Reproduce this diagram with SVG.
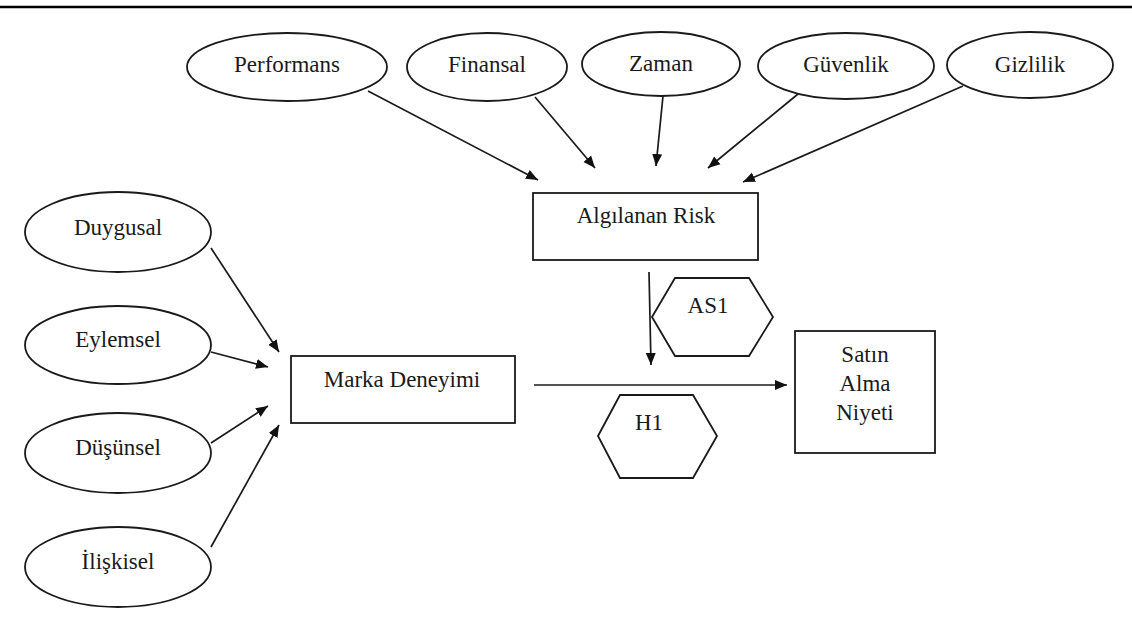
<svg xmlns="http://www.w3.org/2000/svg" width="1132" height="641" viewBox="0 0 1132 641">
<style>
.n{fill:#fff;stroke:#1a1a1a;stroke-width:1.8}
.t{font-family:"Liberation Serif","Times New Roman",serif;font-size:23px;fill:#1a1a1a;text-anchor:middle}
.c{stroke:#1a1a1a;stroke-width:1.7;fill:none;marker-end:url(#ah)}
</style>
<defs>
<marker id="ah" markerUnits="userSpaceOnUse" markerWidth="13" markerHeight="11" refX="12" refY="5.5" orient="auto">
<path d="M0,0.5 L12,5.5 L0,10.5 z" fill="#111"/>
</marker>
</defs>
<rect width="1132" height="641" fill="#fff"/>
<line x1="0" y1="7" x2="1132" y2="7" stroke="#000" stroke-width="2.5"/>
<g id="performans"><ellipse class="n" cx="287" cy="67" rx="100" ry="34"/><text class="t" x="287" y="72">Performans</text></g>
<g id="finansal"><ellipse class="n" cx="487" cy="67" rx="80" ry="34"/><text class="t" x="487" y="72">Finansal</text></g>
<g id="zaman"><ellipse class="n" cx="661" cy="64" rx="79" ry="32"/><text class="t" x="661" y="71">Zaman</text></g>
<g id="guvenlik"><ellipse class="n" cx="846" cy="66" rx="88" ry="33"/><text class="t" x="846" y="72">Güvenlik</text></g>
<g id="gizlilik"><ellipse class="n" cx="1030" cy="65" rx="83" ry="33"/><text class="t" x="1030" y="72">Gizlilik</text></g>
<g id="risk"><rect class="n" x="533" y="193" width="225" height="67"/><text class="t" x="646" y="223">Algılanan Risk</text></g>
<g id="duygusal"><ellipse class="n" cx="118" cy="232" rx="93" ry="40"/><text class="t" x="118" y="235">Duygusal</text></g>
<g id="eylemsel"><ellipse class="n" cx="118" cy="345" rx="93" ry="39"/><text class="t" x="118" y="347">Eylemsel</text></g>
<g id="dusunsel"><ellipse class="n" cx="118" cy="453" rx="93" ry="40"/><text class="t" x="118" y="455">Düşünsel</text></g>
<g id="iliskisel"><ellipse class="n" cx="118" cy="567" rx="93" ry="40"/><text class="t" x="118" y="569">İlişkisel</text></g>
<g id="marka"><rect class="n" x="291" y="356" width="224" height="67"/><text class="t" x="402" y="387">Marka Deneyimi</text></g>
<g id="satin"><rect class="n" x="795" y="331" width="140" height="122"/><text class="t" x="865" y="362">Satın</text><text class="t" x="865" y="391">Alma</text><text class="t" x="865" y="420">Niyeti</text></g>
<g id="as1"><polygon class="n" points="652,317 675,278 749,278 773,317 749,356 675,356"/><text class="t" x="708" y="313">AS1</text></g>
<g id="h1"><polygon class="n" points="598,436 620,395 693,395 717,436 693,478 620,478"/><text class="t" x="649" y="430">H1</text></g>
<g id="connectors">
<line class="c" x1="368" y1="91" x2="538" y2="180"/>
<line class="c" x1="535" y1="97" x2="595" y2="168"/>
<line class="c" x1="663" y1="96" x2="656" y2="166"/>
<line class="c" x1="798" y1="94" x2="708" y2="168"/>
<line class="c" x1="963" y1="86" x2="743" y2="182"/>
<line class="c" x1="211" y1="248" x2="279" y2="352"/>
<line class="c" x1="211" y1="352" x2="268" y2="367"/>
<line class="c" x1="211" y1="443" x2="268" y2="406"/>
<line class="c" x1="211" y1="547" x2="279" y2="425"/>
<line class="c" x1="649" y1="272" x2="651" y2="365"/>
<line class="c" x1="534" y1="385" x2="787" y2="385"/>
</g>
</svg>
